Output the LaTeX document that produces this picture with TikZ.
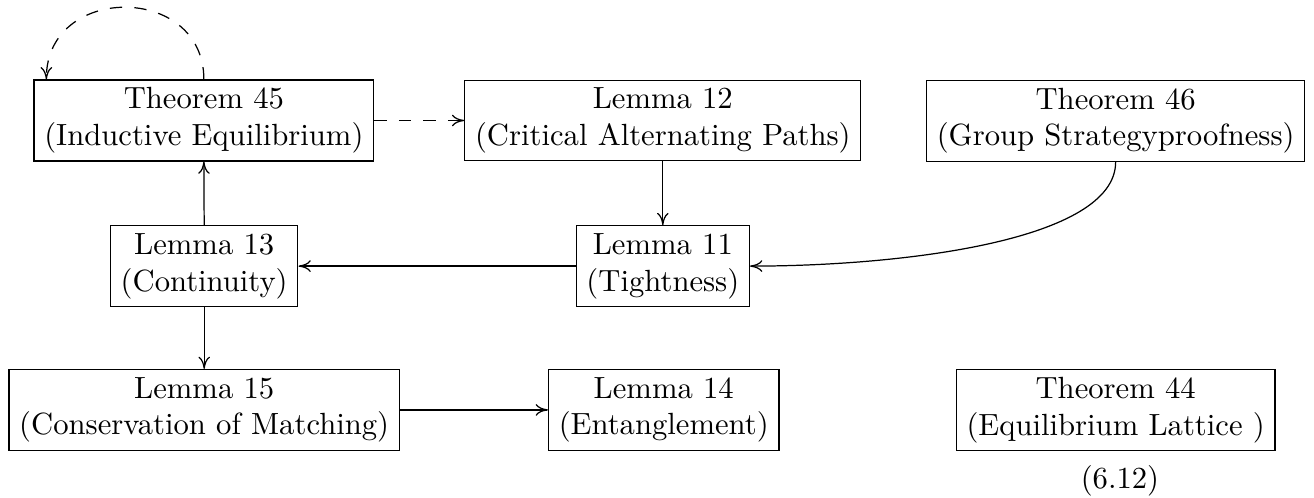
\documentclass[tikz,border=0pt]{standalone}
\usetikzlibrary{arrows.meta}
\begin{document}
\begin{tikzpicture}[x=1pt,y=1pt,
  box/.style={draw, align=center, inner ysep=2.5pt, line width=0.4pt},
  edge/.style={-{To[length=4pt,width=3.8pt]}, line width=0.4pt},
  dashededge/.style={-{To[length=4pt,width=3.8pt]}, line width=0.4pt, dash pattern=on 4pt off 4pt}]
\useasboundingbox (0,0) rectangle (428.6,-162.4);
\node[box] (T45) at (66.5,-39.3) {Theorem 45\\(Inductive Equilibrium)};
\node[box] (L12) at (216.2,-39.3) {Lemma 12\\(Critical Alternating Paths)};
\node[box] (T46) at (363.9,-39.4) {Theorem 46\\(Group Strategyproofness)};
\node[box] (L11) at (216.2,-86.8) {Lemma 11\\(Tightness)};
\node[box] (L13) at (66.6,-86.8) {Lemma 13\\(Continuity)};
\node[box] (L15) at (66.6,-133.7) {Lemma 15\\(Conservation of Matching)};
\node[box] (L14) at (216.5,-133.7) {Lemma 14\\(Entanglement)};
\node[box] (T44) at (363.9,-133.7) {Theorem 44\\(Equilibrium Lattice )};
\node (eq) at (365.3,-156.8) {(6.12)};
\coordinate (loopend) at ([xshift=4.2pt]T45.north west);
\draw[dashededge] (T45.north) .. controls +(0,31.3) and +(0,31.3) .. (loopend);
\draw[dashededge] (T45.east) -- (L12.west);
\draw[edge] (L12.south) -- (L11.north);
\draw[edge] (T46.south) .. controls +(0,-25.8) and +(49,0) .. (L11.east);
\draw[edge] (L11.west) -- (L13.east);
\draw[edge] (L13.north) -- (T45.south);
\draw[edge] (L13.south) -- (L15.north);
\draw[edge] (L15.east) -- (L14.west);
\end{tikzpicture}
\end{document}
